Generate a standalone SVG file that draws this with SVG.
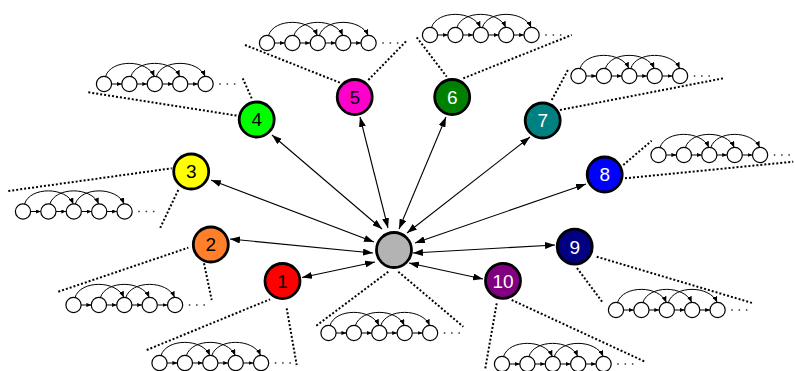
<svg xmlns="http://www.w3.org/2000/svg" xmlns:xlink="http://www.w3.org/1999/xlink" width="795" height="371" viewBox="0 0 795 371">
<style>
.node{stroke:#000;stroke-width:2.8}
.lbl{font-family:"Liberation Sans",Arial,sans-serif;font-size:19px;text-anchor:middle}
.dk{fill:#000}.wt{fill:#fff}
.cone{stroke:#000;stroke-width:2;stroke-dasharray:2 2;fill:none}
.conn{stroke:#000;stroke-width:1.1;fill:none;marker-start:url(#ah);marker-end:url(#ah)}
.cc{fill:#fff;stroke:#000;stroke-width:1.2}
.cs{stroke:#000;stroke-width:1;fill:none;marker-end:url(#sa)}
.ca{stroke:#000;stroke-width:1;fill:none;marker-end:url(#aa)}
.dots{stroke:#333;stroke-width:1.3;stroke-dasharray:1.5 5.8}
</style>
<defs>
<marker id="ah" markerUnits="userSpaceOnUse" markerWidth="10" markerHeight="7" refX="10" refY="3.5" orient="auto-start-reverse"><path d="M0,0 L10,3.5 L0,7 z" fill="#000"/></marker>
<marker id="sa" markerUnits="userSpaceOnUse" markerWidth="5" markerHeight="4" refX="5" refY="2" orient="auto"><path d="M0,0 L5,2 L0,4 z" fill="#000"/></marker>
<marker id="aa" markerUnits="userSpaceOnUse" markerWidth="6" markerHeight="5" refX="6" refY="2.5" orient="auto"><path d="M0,0 L6,2.5 L0,5 z" fill="#000"/></marker>
<g id="chain">
<path class="ca" d="M1.5,-7.5 C7,-25 43,-25 50.3,-7.6"/>
<path class="ca" d="M26.9,-7.5 C32.4,-25 68.4,-25 75.7,-7.6"/>
<path class="ca" d="M52.3,-7.5 C57.8,-25 93.8,-25 101.1,-7.6"/>
<line class="cs" x1="7.5" y1="0" x2="17.9" y2="0"/>
<line class="cs" x1="32.9" y1="0" x2="43.3" y2="0"/>
<line class="cs" x1="58.3" y1="0" x2="68.7" y2="0"/>
<line class="cs" x1="83.7" y1="0" x2="94.1" y2="0"/>
<circle class="cc" cx="0" cy="0" r="7.6"/>
<circle class="cc" cx="25.4" cy="0" r="7.6"/>
<circle class="cc" cx="50.8" cy="0" r="7.6"/>
<circle class="cc" cx="76.2" cy="0" r="7.6"/>
<circle class="cc" cx="101.6" cy="0" r="7.6"/>
<line class="dots" x1="115.3" y1="0" x2="132" y2="0"/>
</g>
</defs>
<rect width="795" height="371" fill="#fff"/>
<g id="connectors">
<line class="conn" x1="375" y1="262" x2="302" y2="277.5"/>
<line class="conn" x1="373" y1="253" x2="230" y2="239"/>
<line class="conn" x1="374" y1="242" x2="211" y2="180"/>
<line class="conn" x1="382" y1="229" x2="272" y2="135"/>
<line class="conn" x1="388" y1="228" x2="360" y2="117"/>
<line class="conn" x1="399" y1="229" x2="446" y2="117"/>
<line class="conn" x1="407" y1="233" x2="530" y2="137"/>
<line class="conn" x1="415" y1="243" x2="586" y2="184"/>
<line class="conn" x1="413" y1="253" x2="555" y2="245"/>
<line class="conn" x1="409" y1="263" x2="483" y2="279"/>
</g>
<g id="hub">
<line class="cone" x1="388.3" y1="271.7" x2="315" y2="326.7"/>
<line class="cone" x1="398.3" y1="271.7" x2="463.3" y2="326.7"/>
<use xlink:href="#chain" href="#chain" transform="translate(328.5,333)"/>
<circle class="node" cx="394" cy="250" r="17.5" fill="#b3b3b3"/>
</g>
<g id="node1">
<line class="cone" x1="146.7" y1="350" x2="270" y2="299.3"/>
<line class="cone" x1="286.7" y1="308.3" x2="296.7" y2="365"/>
<use xlink:href="#chain" href="#chain" transform="translate(159.5,363)"/>
<circle class="node" cx="282.5" cy="281" r="17.5" fill="#ff0000"/>
<text class="lbl dk" x="282.5" y="287.8">1</text>
</g>
<g id="node2">
<line class="cone" x1="58.3" y1="291.7" x2="188.3" y2="247.7"/>
<line class="cone" x1="204" y1="263.3" x2="211.7" y2="300"/>
<use xlink:href="#chain" href="#chain" transform="translate(73.5,305)"/>
<circle class="node" cx="210.8" cy="244.5" r="17.5" fill="#ff7f2a"/>
<text class="lbl dk" x="210.8" y="251.3">2</text>
</g>
<g id="node3">
<line class="cone" x1="8.3" y1="191" x2="171.7" y2="168.3"/>
<line class="cone" x1="178.3" y1="190" x2="160" y2="228.3"/>
<use xlink:href="#chain" href="#chain" transform="translate(23,211.5)"/>
<circle class="node" cx="191.2" cy="171.5" r="17.5" fill="#ffff00"/>
<text class="lbl dk" x="191.2" y="178.3">3</text>
</g>
<g id="node4">
<line class="cone" x1="88.3" y1="92.3" x2="237.3" y2="115.7"/>
<line class="cone" x1="242.7" y1="78.3" x2="251.7" y2="98.3"/>
<use xlink:href="#chain" href="#chain" transform="translate(104,84)"/>
<circle class="node" cx="256.7" cy="119.5" r="17.5" fill="#00ff00"/>
<text class="lbl dk" x="256.7" y="126.3">4</text>
</g>
<g id="node5">
<line class="cone" x1="245" y1="45" x2="340" y2="82.7"/>
<line class="cone" x1="368.3" y1="80" x2="406.7" y2="40.7"/>
<use xlink:href="#chain" href="#chain" transform="translate(267,43)"/>
<circle class="node" cx="354.7" cy="97" r="17.5" fill="#ff00cc"/>
<text class="lbl dk" x="354.7" y="103.8">5</text>
</g>
<g id="node6">
<line class="cone" x1="416.7" y1="37.3" x2="446.7" y2="76.7"/>
<line class="cone" x1="463.3" y1="78.3" x2="571.7" y2="35"/>
<use xlink:href="#chain" href="#chain" transform="translate(430,35)"/>
<circle class="node" cx="452.2" cy="97" r="17.5" fill="#008000"/>
<text class="lbl wt" x="452.2" y="103.8">6</text>
</g>
<g id="node7">
<line class="cone" x1="551.7" y1="100" x2="568.3" y2="69.3"/>
<line class="cone" x1="560" y1="110" x2="723.3" y2="78.3"/>
<use xlink:href="#chain" href="#chain" transform="translate(578.5,76)"/>
<circle class="node" cx="542.7" cy="120.5" r="17.5" fill="#008080"/>
<text class="lbl wt" x="542.7" y="127.3">7</text>
</g>
<g id="node8">
<line class="cone" x1="623.3" y1="165" x2="651.7" y2="140.7"/>
<line class="cone" x1="625" y1="178.3" x2="793.3" y2="161.7"/>
<use xlink:href="#chain" href="#chain" transform="translate(658.5,155)"/>
<circle class="node" cx="604.7" cy="174.5" r="17.5" fill="#0000ff"/>
<text class="lbl wt" x="604.7" y="181.3">8</text>
</g>
<g id="node9">
<line class="cone" x1="596.7" y1="256.7" x2="753.3" y2="303.3"/>
<line class="cone" x1="577" y1="268" x2="603.3" y2="303.3"/>
<use xlink:href="#chain" href="#chain" transform="translate(616,310)"/>
<circle class="node" cx="574.7" cy="246.7" r="17.5" fill="#000080"/>
<text class="lbl wt" x="574.7" y="253.5">9</text>
</g>
<g id="node10">
<line class="cone" x1="496.7" y1="303.3" x2="485" y2="370"/>
<line class="cone" x1="511.7" y1="300" x2="645" y2="361.7"/>
<use xlink:href="#chain" href="#chain" transform="translate(502,364)"/>
<circle class="node" cx="503" cy="280.8" r="17.5" fill="#800080"/>
<text class="lbl wt" x="503" y="287.6">10</text>
</g>
</svg>
